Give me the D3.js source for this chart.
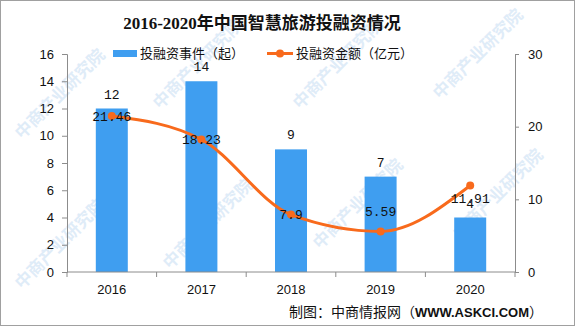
<!DOCTYPE html>
<html><head><meta charset="utf-8">
<script src="https://cdn.jsdelivr.net/npm/d3@7"></script>
<style>
html,body{margin:0;padding:0;background:#fff;}
svg{display:block;}
</style></head>
<body>
<script>
const years = ["2016","2017","2018","2019","2020"];
const eventCounts = [12,14,9,7,4];
const amounts = [21.46,18.23,7.9,5.59,11.91];
const leftTicks = [0,2,4,6,8,10,12,14,16];
const rightTicks = [0,10,20,30];
const amountLabelPlacement = ["center","center","center","above","below"];

const W=575,H=326;
const m={l:67,r:60,t:54,b:54};
const svg=d3.select("body").append("svg").attr("width",W).attr("height",H);
svg.append("rect").attr("x",0.5).attr("y",0.5).attr("width",W-1).attr("height",H-1)
  .attr("fill","#fff").attr("stroke","#a0a0a0");

// watermarks
const wm = svg.append("g").attr("fill","#dfecf8").attr("font-family","Noto Sans CJK SC").attr("font-size",17).attr("font-weight",700);
[[22,140],[160,110],[300,110],[440,100],[22,290],[170,270],[320,250],[460,240]].forEach(([x,y])=>{
  wm.append("text").attr("transform",`translate(${x},${y}) rotate(-45)`).text("中商产业研究院");
});

const x=d3.scaleBand().domain(years).range([m.l,W-m.r]).paddingInner(0.643).paddingOuter(0.3215);
const yL=d3.scaleLinear().domain([0,16]).range([H-m.b,m.t]);
const yR=d3.scaleLinear().domain([0,30]).range([H-m.b,m.t]);
const axisColor="#8c8c8c";

// bars
svg.append("g").selectAll("rect").data(eventCounts).join("rect")
  .attr("x",(d,i)=>x(years[i])).attr("width",x.bandwidth())
  .attr("y",d=>yL(d)).attr("height",d=>yL(0)-yL(d)).attr("fill","#3f9ef0");

// axes
const gL=svg.append("g").attr("transform",`translate(${m.l},0)`)
  .call(d3.axisLeft(yL).tickValues(leftTicks).tickSize(5).tickPadding(8));
const gR=svg.append("g").attr("transform",`translate(${W-m.r},0)`)
  .call(d3.axisRight(yR).tickValues(rightTicks).tickSize(4).tickPadding(9));
const xEdges=d3.scalePoint().domain(d3.range(years.length+1)).range([m.l,W-m.r]);
const gB=svg.append("g").attr("transform",`translate(0,${H-m.b})`);
gB.append("line").attr("x1",m.l).attr("x2",W-m.r).attr("stroke",axisColor);
gB.selectAll("line.t").data(xEdges.domain()).join("line").attr("class","t")
  .attr("x1",d=>xEdges(d)).attr("x2",d=>xEdges(d)).attr("y1",0).attr("y2",5).attr("stroke",axisColor);
gB.selectAll("text").data(years).join("text")
  .attr("x",d=>x(d)+x.bandwidth()/2).attr("y",22).attr("text-anchor","middle")
  .attr("font-family","Liberation Sans").attr("font-size",13).attr("fill","#111").text(d=>d);
[gL,gR].forEach(g=>{
  g.select(".domain").attr("stroke",axisColor);
  g.selectAll(".tick line").attr("stroke",axisColor);
  g.selectAll(".tick text").attr("font-family","Liberation Sans").attr("font-size",13).attr("fill","#111");
});

// line
const pts=amounts.map((v,i)=>[x(years[i])+x.bandwidth()/2,yR(v)]);
svg.append("path").attr("d",d3.line().curve(d3.curveMonotoneX)(pts))
  .attr("fill","none").attr("stroke","#f86a1c").attr("stroke-width",3);
svg.append("g").selectAll("circle").data(pts).join("circle")
  .attr("cx",d=>d[0]).attr("cy",d=>d[1]).attr("r",4).attr("fill","#f86a1c");

// bar labels
svg.append("g").selectAll("text").data(eventCounts).join("text")
  .attr("x",(d,i)=>x(years[i])+x.bandwidth()/2).attr("y",d=>yL(d)-10)
  .attr("text-anchor","middle").attr("font-family","Liberation Mono").attr("font-size",13)
  .attr("fill","#111").text(d=>d);
// amount labels
svg.append("g").selectAll("text").data(amounts).join("text")
  .attr("x",(d,i)=>pts[i][0]).attr("y",(d,i)=>{
    const p=amountLabelPlacement[i];
    return pts[i][1]+(p==="above"?-20:p==="below"?13:0);
  })
  .attr("dy","0.35em").attr("text-anchor","middle").attr("font-family","Liberation Mono").attr("font-size",13)
  .attr("fill","#111").text(d=>d);

// title
svg.append("text").attr("x",262).attr("y",29).attr("text-anchor","middle")
  .attr("font-family","'Liberation Serif','Noto Sans CJK SC'").attr("font-weight",700).attr("font-size",17)
  .attr("fill","#111").text("2016-2020年中国智慧旅游投融资情况");

// legend
const lg=svg.append("g").attr("font-family","Noto Sans CJK SC").attr("font-size",13).attr("fill","#111");
lg.append("rect").attr("x",113).attr("y",50).attr("width",24).attr("height",7).attr("fill","#3f9ef0");
lg.append("text").attr("x",140).attr("y",53).attr("dy","0.35em").text("投融资事件（起）");
lg.append("line").attr("x1",267).attr("x2",293).attr("y1",53.5).attr("y2",53.5).attr("stroke","#f86a1c").attr("stroke-width",3);
lg.append("circle").attr("cx",280).attr("cy",53.5).attr("r",4).attr("fill","#f86a1c");
lg.append("text").attr("x",296).attr("y",53).attr("dy","0.35em").text("投融资金额（亿元）");

// source
const src=svg.append("text").attr("x",543).attr("y",312).attr("dy","0.35em").attr("text-anchor","end")
  .attr("font-family","Noto Sans CJK SC").attr("font-size",14).attr("fill","#111");
src.append("tspan").text("制图：中商情报网（");
src.append("tspan").attr("font-family","Liberation Sans").attr("font-weight",700).attr("font-size",13).text("WWW.ASKCI.COM");
src.append("tspan").text("）");
</script>
</body></html>
